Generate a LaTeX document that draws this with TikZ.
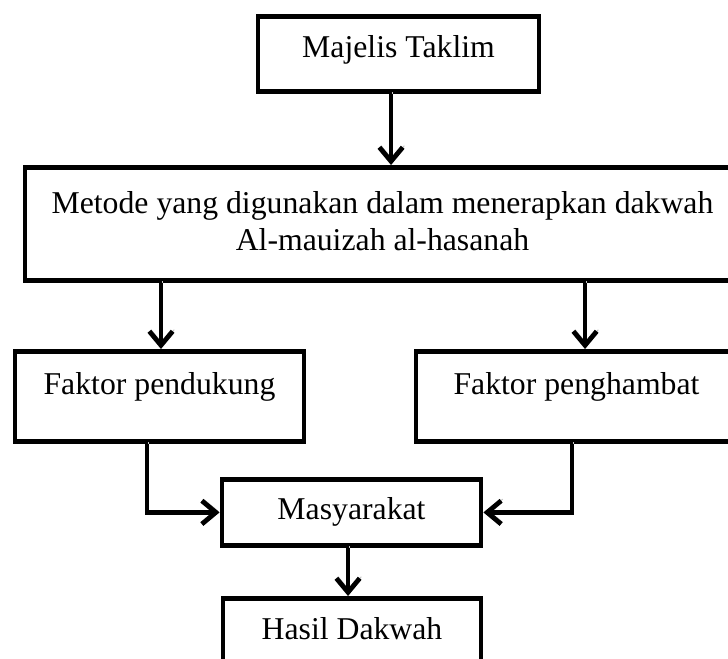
\documentclass[tikz,border=0pt]{standalone}
\usepackage{fontspec}
\setmainfont{Liberation Serif}
\usetikzlibrary{arrows.meta}

\tikzset{every picture/.style={line width=0.75pt}}

\begin{document}
\begin{tikzpicture}[x=0.75pt,y=0.75pt,yscale=-1,xscale=1,
  box/.style={draw, line width=3.6pt, inner sep=0pt, anchor=north, align=center,
    font=\fontsize{23.8pt}{27.75pt}\selectfont},
  link/.style={line width=3.6pt, -{Straight Barb[length=10.5pt,width=17.5pt]},
    preaction={draw=gray!45, transform canvas={shift={(1.6,1.6)}}}}]
%set diagram left start at 0, and has height of 658
\useasboundingbox (0,0) rectangle (728,658);
\clip (0,0) rectangle (728,658);

%Shape: Rectangle [id:majelis]
\node [box, minimum width=210.75pt, text height=30.75pt, text depth=25.5pt] (majelis) at (398.5,14) {Majelis Taklim};
%Shape: Rectangle [id:metode]
\node [box, minimum width=536.25pt, text height=62.25pt, text depth=22.5pt] (metode) at (382.5,165) {Metode yang digunakan dalam menerapkan dakwah\\Al-mauizah al-hasanah};
%Shape: Rectangle [id:pendukung]
\node [box, minimum width=216.75pt, text height=32.25pt, text depth=35.25pt] (pendukung) at (159.5,349) {Faktor pendukung};
%Shape: Rectangle [id:penghambat]
\node [box, minimum width=240.75pt, text height=32.25pt, text depth=35.25pt] (penghambat) at (576.5,349) {Faktor penghambat};
%Shape: Rectangle [id:masyarakat]
\node [box, minimum width=194.25pt, text height=30pt, text depth=19.5pt] (masyarakat) at (351.5,477) {Masyarakat};
%Shape: Rectangle [id:hasil]
\node [box, minimum width=193.5pt, text height=30.75pt, text depth=45pt] (hasil) at (352,596) {Hasil Dakwah};

%Straight Lines [id:majelis-metode]
\draw [link] ([xshift=-5.6pt]majelis.south) -- ([xshift=-5.6pt]majelis.south |- metode.north) ;
%Straight Lines [id:metode-pendukung]
\draw [link] ([xshift=1.1pt]pendukung.north |- metode.south) -- ([xshift=1.1pt]pendukung.north) ;
%Straight Lines [id:metode-penghambat]
\draw [link] ([xshift=6.4pt]penghambat.north |- metode.south) -- ([xshift=6.4pt]penghambat.north) ;
%Elbow Lines [id:pendukung-masyarakat]
\draw [link] ([xshift=-9.4pt]pendukung.south) |- (masyarakat.west) ;
%Elbow Lines [id:penghambat-masyarakat]
\draw [link] ([xshift=-3.4pt]penghambat.south) |- (masyarakat.east) ;
%Straight Lines [id:masyarakat-hasil]
\draw [link] ([xshift=-2.6pt]masyarakat.south) -- ([xshift=-2.6pt]masyarakat.south |- hasil.north) ;

\end{tikzpicture}
\end{document}
